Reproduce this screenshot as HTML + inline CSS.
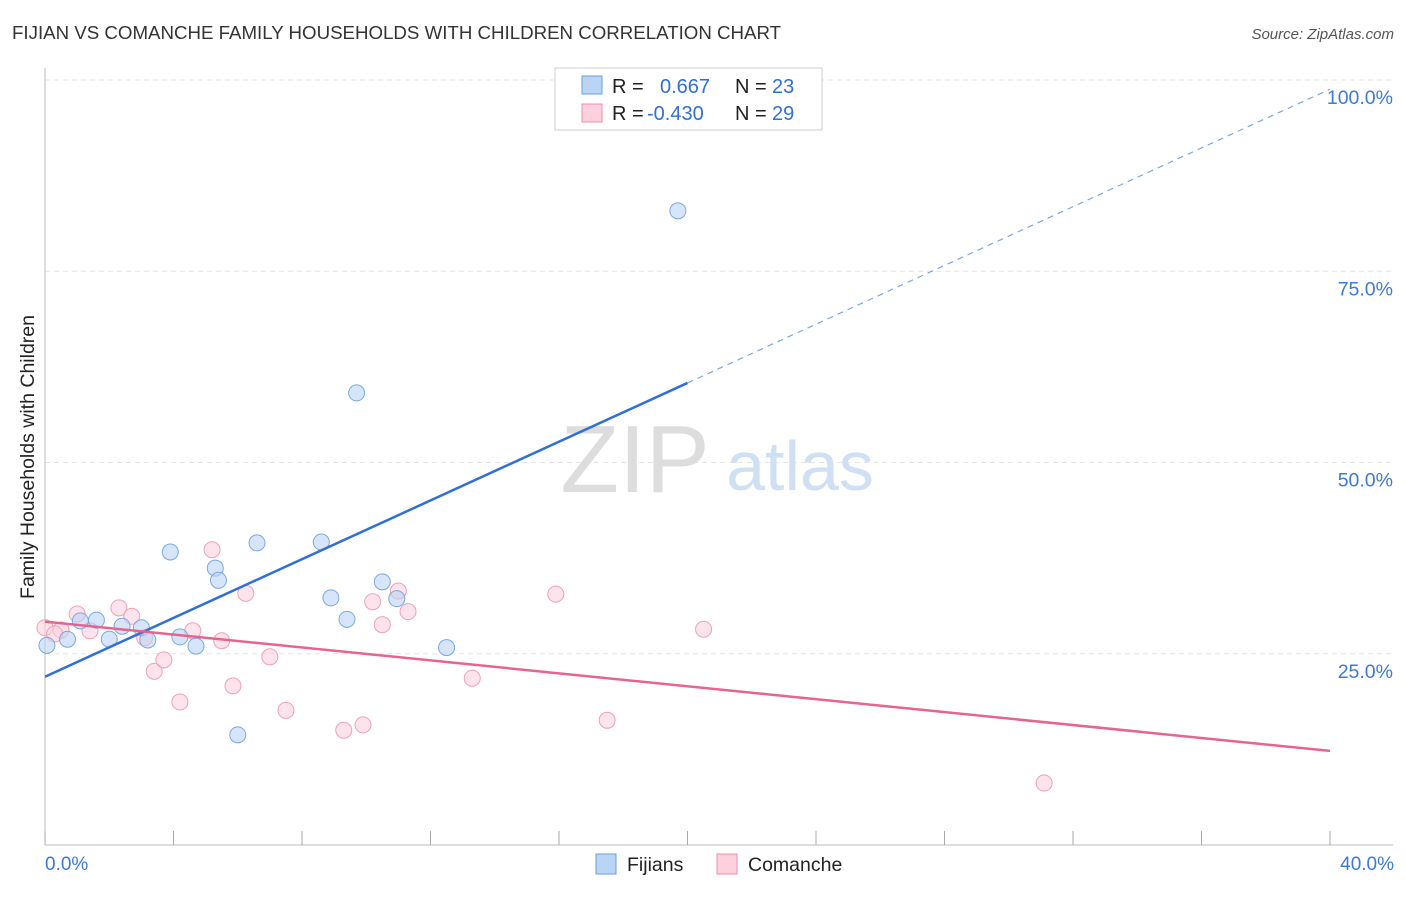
<!DOCTYPE html>
<html><head><meta charset="utf-8"><style>
body{margin:0;background:#fff;font-family:"Liberation Sans",sans-serif;}
svg text{font-family:"Liberation Sans",sans-serif;}
</style></head><body>
<svg id="chart" width="1406" height="892">
<text x="12" y="39" font-size="18.7" fill="#333">FIJIAN VS COMANCHE FAMILY HOUSEHOLDS WITH CHILDREN CORRELATION CHART</text>
<text x="1394" y="39" font-size="15" fill="#555" font-style="italic" text-anchor="end">Source: ZipAtlas.com</text>
<text x="34" y="457" font-size="19.5" fill="#222" text-anchor="middle" transform="rotate(-90 34 457)">Family Households with Children</text>
<g id="grid"></g>
<text x="635" y="492" font-size="96" fill="#ddd" font-family="Liberation Serif" text-anchor="middle">ZIP</text>
<text x="800" y="490" font-size="70" fill="#cfe0f5" text-anchor="middle">atlas</text>
<g id="pts"></g><g id="lines"></g>
<g>
<rect x="555" y="68" width="267" height="62" fill="#fff" stroke="#ccc"/>
<rect x="582" y="76" width="20" height="18" fill="#bad4f5" stroke="#6a9ee0"/>
<rect x="582" y="104" width="20" height="18" fill="#fcd0dd" stroke="#f08cab"/>
<text x="612" y="93" font-size="20" fill="#222">R = </text><text x="660" y="93" font-size="20" fill="#2f6fd6">0.667</text>
<text x="735" y="93" font-size="20" fill="#222">N = </text><text x="772" y="93" font-size="20" fill="#2f6fd6">23</text>
<text x="612" y="120" font-size="20" fill="#222">R = </text><text x="647" y="120" font-size="20" fill="#2f6fd6">-0.430</text>
<text x="735" y="120" font-size="20" fill="#222">N = </text><text x="772" y="120" font-size="20" fill="#2f6fd6">29</text>
</g>
<g>
<rect x="596" y="854" width="20" height="20" fill="#bad4f5" stroke="#6a9ee0"/>
<text x="627" y="871" font-size="19.5" fill="#222">Fijians</text>
<rect x="717" y="854" width="20" height="20" fill="#fcd0dd" stroke="#f08cab"/>
<text x="748" y="871" font-size="19.5" fill="#222">Comanche</text>
</g>
<text x="45" y="870" font-size="19" fill="#3b7ad9">0.0%</text>
<text x="1394" y="870" font-size="19" fill="#3b7ad9" text-anchor="end">40.0%</text>
</svg>
<script>
const yTicks=[25,50,75,100];
const yTickLabels=["25.0%","50.0%","75.0%","100.0%"];
const xTicks=[0,4,8,12,16,20,24,28,32,36,40];
const fijX=[0.06,0.7,1.1,1.6,2.0,2.4,3.0,3.2,3.9,4.2,4.7,5.3,5.4,6.0,6.6,8.6,8.9,9.4,9.7,10.5,10.95,12.5,19.7];
const fijY=[26.1,26.9,29.3,29.4,26.9,28.6,28.4,26.8,38.3,27.2,26.0,36.2,34.6,14.4,39.5,39.6,32.3,29.5,59.1,34.4,32.2,25.8,82.9];
const comX=[0,0.5,1.0,1.4,2.3,2.7,3.1,3.4,3.7,4.2,4.6,5.2,5.5,5.85,6.25,7.0,7.5,9.3,9.9,10.2,10.5,11.0,11.3,13.3,15.9,17.5,20.5,31.1,0.3];
const comY=[28.4,28.1,30.2,28.0,31.0,29.9,27.1,22.7,24.2,18.7,28.0,38.6,26.7,20.8,32.9,24.6,17.6,15.0,15.7,31.8,28.8,33.2,30.5,21.8,32.8,16.3,28.2,8.1,27.6];
const fijTrend=[22.0,60.4,98.8]; // at x=0,20,40
const comTrend=[29.2,12.3]; // at x=0,40
const X=v=>45+v*32.125, Y=v=>845-v*7.65;
const NS="http://www.w3.org/2000/svg";
function mk(t,a,p){const e=document.createElementNS(NS,t);for(const k in a)e.setAttribute(k,a[k]);p.appendChild(e);return e;}
const grid=document.getElementById('grid');
yTicks.forEach((t,i)=>{
 const l=mk('line',{x1:45,x2:1393,y1:Y(t),y2:Y(t),stroke:'#e4e4e4','stroke-dasharray':'5,4'},grid);
 
 
 const tx=mk('text',{x:1393,y:Y(t)+24,'font-size':19.5,fill:'#3b7ad9','text-anchor':'end'},grid);
 tx.textContent=yTickLabels[i];
 
 
});
const ax=mk('line',{x1:45,x2:1393,y1:845,y2:845,stroke:'#bbb'},grid);


const ay=mk('line',{x1:45,x2:45,y1:68,y2:845,stroke:'#bbb'},grid);


xTicks.forEach(t=>{
 const l=mk('line',{x1:X(t),x2:X(t),y1:831,y2:845,stroke:'#aaa'},grid);
 
 
});
const pts=document.getElementById('pts');
comX.forEach((x,i)=>{
 const c=mk('circle',{cx:X(x),cy:Y(comY[i]),r:8,fill:'#fcd0dd','fill-opacity':0.6,stroke:'#f0a0b8'},pts);
 
 
});
fijX.forEach((x,i)=>{
 const c=mk('circle',{cx:X(x),cy:Y(fijY[i]),r:8,fill:'#bad4f5','fill-opacity':0.6,stroke:'#7aa8e0'},pts);
 
 
});
const lines=document.getElementById('lines');
const f1=mk('line',{x1:X(0),y1:Y(fijTrend[0]),x2:X(20),y2:Y(fijTrend[1]),stroke:'#2f6fd6','stroke-width':2.5},lines);


const f2=mk('line',{x1:X(20),y1:Y(fijTrend[1]),x2:X(40),y2:Y(fijTrend[2]),stroke:'#7aa8e0','stroke-width':1.2,'stroke-dasharray':'6,5'},lines);


const c1=mk('line',{x1:X(0),y1:Y(comTrend[0]),x2:X(40),y2:Y(comTrend[1]),stroke:'#e8648f','stroke-width':2.5},lines);


</script>
</body></html>
